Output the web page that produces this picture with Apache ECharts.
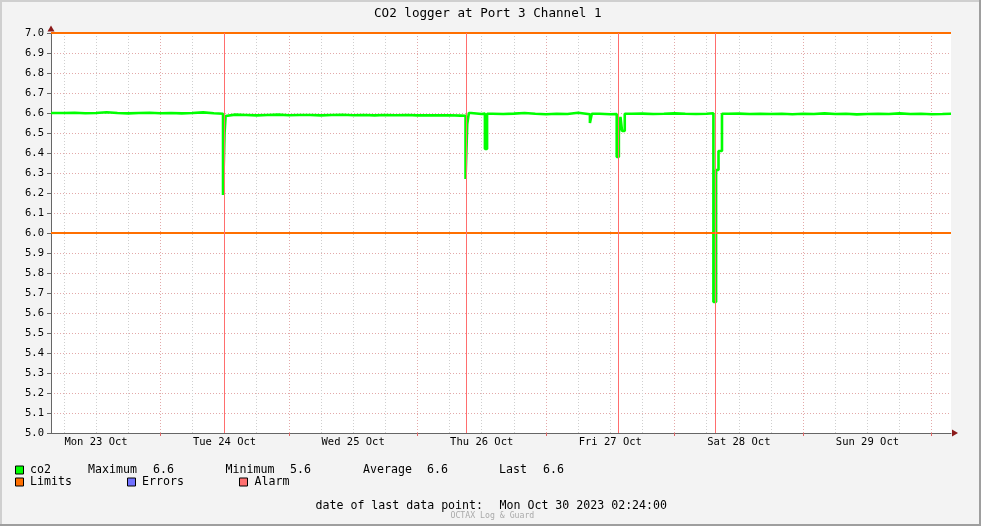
<!DOCTYPE html>
<html>
<head>
<meta charset="utf-8">
<script src="https://cdn.jsdelivr.net/npm/echarts@6/dist/echarts.min.js"></script>
<style>
html,body{margin:0;padding:0;background:#f3f3f3;}
#c{width:981px;height:526px;}
</style>
</head>
<body>
<div id="c"></div>
<script>
// ---- data (x = hours since Mon 23 Oct 2023 00:00) ----
var hours = [3.6,4,6,8,10,12,14,16,18,20,22,24,26,28,30,32,34,
  35.71,36.0,36.2,36.5,38,40,42,44,46,48,50,52,54,56,58,60,62,64,66,68,70,72,74,76,78,80,
  80.98,81.3,81.6,82,84,84.6,85.0,86,88,90,92,94,96,98,100,102,
  104.2,104.55,106,108,109.2,109.6,109.9,110.2,110.7,112,114,116,118,120,122,124,126,
  127.25,127.75,128.2,128.85,130,132,134,136,138,140,142,144,146,148,150,152,154,156,158,160,162,164,166,168,170,171.6];
var co2 = [6.600,6.600,6.601,6.599,6.600,6.604,6.600,6.598,6.600,6.601,6.599,6.600,6.598,6.600,6.603,6.599,6.596,
  6.19,6.50,6.585,6.592,6.590,6.588,6.590,6.592,6.589,6.590,6.590,6.588,6.590,6.591,6.589,6.590,6.588,6.590,6.589,6.590,6.588,6.589,6.588,6.589,6.587,6.586,
  6.27,6.545,6.600,6.595,6.597,6.42,6.596,6.595,6.597,6.600,6.596,6.594,6.596,6.595,6.601,6.594,
  6.55,6.596,6.594,6.595,6.38,6.50,6.58,6.51,6.596,6.597,6.595,6.596,6.598,6.596,6.595,6.596,6.599,
  5.655,6.315,6.41,6.596,6.597,6.595,6.596,6.595,6.596,6.594,6.596,6.595,6.598,6.595,6.596,6.593,6.595,6.596,6.595,6.598,6.595,6.596,6.594,6.595,6.596,6.595];
var alarmHours = [35.89, 81.07, 109.44, 127.55];
var limits = [7.0, 6.0];
var xRange = [3.6, 171.6];
var majorTicks = [24,48,72,96,120,144,168];
var minorTicks = [6,12,18,30,36,42,54,60,66,78,84,90,102,108,114,126,132,138,150,156,162];
var labelHours = [12,36,60,84,108,132,156];
var dayLabels = ['Mon 23 Oct','Tue 24 Oct','Wed 25 Oct','Thu 26 Oct','Fri 27 Oct','Sat 28 Oct','Sun 29 Oct'];
var yTicks = {min: 5.0, max: 7.0, interval: 0.1};
var stats = {Maximum: '6.6', Minimum: '5.6', Average: '6.6', Last: '6.6'};
var lastPoint = 'Mon Oct 30 2023 02:24:00';

// ---- chart ----
var FONT = 'DejaVu Sans Mono';
var LEG = 11.6;
var chart = echarts.init(document.getElementById('c'), null, {renderer: 'canvas'});
var co2Data = hours.map(function (h, i) { return [h, co2[i]]; });

function txt(x, y, s, size, color, align) {
  return {type: 'text', x: x, y: y, silent: true, z: 100,
    style: {text: s, fill: color || '#000', font: (size || LEG) + 'px "' + FONT + '"',
      verticalAlign: 'middle', align: align || 'left'}};
}
function box(x, y, color) {
  return {type: 'rect', silent: true, z: 100, shape: {x: x + 0.5, y: y + 0.5, width: 8, height: 8},
    style: {fill: color, stroke: '#000', lineWidth: 1}};
}

var option = {
  animation: false,
  backgroundColor: '#f3f3f3',
  title: {text: 'CO2 logger at Port 3 Channel 1', left: 374, top: 7, padding: 0,
    textStyle: {fontFamily: FONT, fontSize: 12.6, fontWeight: 'normal', color: '#000'}},
  grid: {left: 51, top: 33, width: 900, height: 400, show: true, backgroundColor: '#ffffff', borderWidth: 0},
  xAxis: [{
    type: 'value', min: xRange[0], max: xRange[1],
    axisLine: {show: true, lineStyle: {color: '#666', width: 1}},
    axisTick: {show: true, customValues: majorTicks, length: 3, lineStyle: {color: '#e06666'}},
    axisLabel: {show: true, customValues: labelHours, margin: 4, color: '#000', fontFamily: FONT, fontSize: 10.5,
      formatter: function (v) { var i = labelHours.indexOf(Math.round(v)); return i >= 0 ? dayLabels[i] : ''; }},
    splitLine: {show: true, lineStyle: {color: '#e3a9a9', type: [1, 2], width: 1}}
  }, {
    type: 'value', min: xRange[0], max: xRange[1], position: 'bottom',
    axisLine: {show: false}, axisLabel: {show: false},
    axisTick: {show: false, customValues: minorTicks},
    splitLine: {show: true, lineStyle: {color: '#cfcfcf', type: [1, 2], width: 1}}
  }, {
    type: 'value', min: xRange[0], max: xRange[1], position: 'bottom',
    axisLine: {show: true, symbol: ['none', 'triangle'], symbolSize: [7, 6], symbolOffset: [0, 4],
      lineStyle: {color: '#8b1a1a', width: 0}},
    axisLabel: {show: false}, axisTick: {show: false}, splitLine: {show: false}
  }],
  yAxis: [{
    type: 'value', min: yTicks.min, max: yTicks.max, interval: yTicks.interval,
    axisLine: {show: true, lineStyle: {color: '#666', width: 1}},
    axisTick: {show: true, length: 4, lineStyle: {color: '#666'}},
    axisLabel: {margin: 7, color: '#000', fontFamily: FONT, fontSize: 10.5,
      formatter: function (v) { return v.toFixed(1); }},
    splitLine: {show: true, lineStyle: {color: '#e3a9a9', type: [1, 2], width: 1}}
  }, {
    type: 'value', min: yTicks.min, max: yTicks.max, position: 'left',
    axisLine: {show: true, symbol: ['none', 'triangle'], symbolSize: [7, 6], symbolOffset: [0, 4.5],
      lineStyle: {color: '#8b1a1a', width: 0}},
    axisLabel: {show: false}, axisTick: {show: false}, splitLine: {show: false}
  }],
  series: [{
    name: 'co2', type: 'line', step: 'end', showSymbol: false, symbol: 'none', z: 2,
    xAxisIndex: 0, yAxisIndex: 0,
    lineStyle: {color: '#00ff00', width: 2.6},
    data: co2Data,
    markLine: {silent: true, symbol: 'none', label: {show: false}, animation: false,
      lineStyle: {color: '#ff6e6e', width: 1, type: 'solid'},
      data: alarmHours.map(function (h) { return {xAxis: h}; })}
  }].concat(limits.map(function (v) {
    return {name: 'Limits', type: 'line', showSymbol: false, symbol: 'none', clip: false, z: 4,
      xAxisIndex: 0, yAxisIndex: 0,
      lineStyle: {color: '#ff6f00', width: 2},
      data: [[xRange[0], v], [xRange[1], v]]};
  })),
  graphic: [
    // frame
    {type: 'rect', silent: true, shape: {x: 0, y: 0, width: 981, height: 2}, style: {fill: '#cfcfcf'}},
    {type: 'rect', silent: true, shape: {x: 0, y: 0, width: 2, height: 526}, style: {fill: '#cfcfcf'}},
    {type: 'rect', silent: true, shape: {x: 979, y: 0, width: 2, height: 526}, style: {fill: '#9e9e9e'}},
    {type: 'rect', silent: true, shape: {x: 0, y: 524, width: 981, height: 2}, style: {fill: '#9e9e9e'}},
    // legend row 1
    box(15, 465.5, '#00ff00'),
    txt(30, 470, 'co2'),
    txt(88, 470, 'Maximum'), txt(153, 470, stats.Maximum),
    txt(225.5, 470, 'Minimum'), txt(290, 470, stats.Minimum),
    txt(363, 470, 'Average'), txt(427, 470, stats.Average),
    txt(499, 470, 'Last'), txt(543, 470, stats.Last),
    // legend row 2
    box(15, 477.5, '#ff6f00'), txt(30, 482, 'Limits'),
    box(127, 477.5, '#7070ff'), txt(142, 482, 'Errors'),
    box(239, 477.5, '#ff7070'), txt(254.5, 482, 'Alarm'),
    // footer
    txt(315.5, 506, 'date of last data point:'),
    txt(499.5, 506, lastPoint),
    txt(450.5, 515.5, 'OCTAX Log & Guard', 8.2, '#aaaaaa')
  ]
};
chart.setOption(option);
</script>
</body>
</html>
